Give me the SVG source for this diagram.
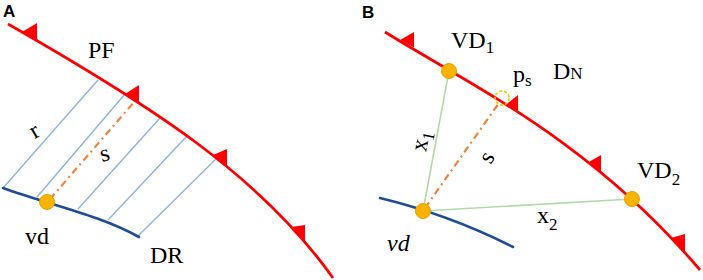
<svg xmlns="http://www.w3.org/2000/svg" width="703" height="280" viewBox="0 0 703 280">
<style>
.front{fill:none;stroke:#ff0000;stroke-width:2.8}
.tri{fill:#ff0000;stroke:none}
.grid{fill:none;stroke:#8fb4e3;stroke-width:1.4}
.dr{fill:none;stroke:#1f4e96;stroke-width:2.6;stroke-linecap:round}
.dash{fill:none;stroke:#f4843a;stroke-width:2.2;stroke-dasharray:7 4 2 4}
.green{fill:none;stroke:#b0dba8;stroke-width:1.6}
.dot{fill:#f8b400;stroke:#eaa200;stroke-width:1}
.lbl{font-family:"Liberation Serif","Times New Roman",serif;font-size:24px;fill:#000}
.sub{font-size:17px}
.pan{font-family:"Liberation Sans",Arial,sans-serif;font-weight:bold;font-size:17px;fill:#000}
</style>
<g id="panelA">
  <text class="pan" x="3" y="17">A</text>
  <g id="connectorsA">
    <path class="grid" d="M3,188 L98,80 M37,197 L125,94 M78,209 L160,118 M108,220 L187,136 M138,236 L217,158"/>
    <path class="dash" d="M50,199 L135,101"/>
  </g>
  <g id="PF">
    <path class="front" d="M8,24 C150,105 260,175 333,278"/>
    <polygon class="tri" points="22,32 37,40.5 37,23"/>
    <polygon class="tri" points="125,94 139,102.5 139,85"/>
    <polygon class="tri" points="213,155 227,166 227,149"/>
    <polygon class="tri" points="291,227 305,242 305,225"/>
    <text class="lbl" x="88" y="58">PF</text>
  </g>
  <g id="DR">
    <path class="dr" d="M3,188 C50,205 100,215 139,237"/>
    <text class="lbl" x="150" y="263">DR</text>
  </g>
  <g id="vdA">
    <circle class="dot" cx="47" cy="202" r="7.5"/>
    <text class="lbl" x="25" y="244">vd</text>
  </g>
  <text class="lbl" x="35" y="138" text-anchor="middle" transform="rotate(-30 35 132)">r</text>
  <text class="lbl" x="105" y="161" text-anchor="middle" transform="rotate(-15 105 155)">s</text>
</g>
<g id="panelB">
  <text class="pan" x="362" y="18">B</text>
  <g id="connectorsB">
    <path class="green" d="M449,71 L423,211 L632,199"/>
    <path class="dash" d="M425,208 L499,103"/>
  </g>
  <g id="DN">
    <path class="front" d="M385,32 C470,85 590,140 700,270"/>
    <polygon class="tri" points="400,40 414,47.5 414,32"/>
    <polygon class="tri" points="506,104.5 518,112 518,95"/>
    <polygon class="tri" points="588,162.5 601,172 601,155"/>
    <polygon class="tri" points="671,238 685,252 685,234"/>
    <text class="lbl" x="553" y="79">D<tspan class="sub" dy="0">N</tspan></text>
  </g>
  <g id="blueB">
    <path class="dr" d="M380,198 Q450,215 513,247"/>
  </g>
  <g id="VD1">
    <circle class="dot" cx="449" cy="71" r="7.5"/>
    <text class="lbl" x="451" y="48">VD<tspan class="sub" dy="5">1</tspan></text>
  </g>
  <g id="VD2">
    <circle class="dot" cx="632" cy="199" r="7.5"/>
    <text class="lbl" x="637" y="178">VD<tspan class="sub" dy="7">2</tspan></text>
  </g>
  <g id="ps">
    <circle cx="502" cy="98" r="7" fill="none" stroke="#f5c400" stroke-width="1.6" stroke-dasharray="3 2"/>
    <text class="lbl" x="513" y="82">p<tspan class="sub" dy="4">s</tspan></text>
  </g>
  <g id="vdB">
    <circle class="dot" cx="423" cy="211" r="7.5"/>
    <text class="lbl" x="387" y="251" font-style="italic">vd</text>
  </g>
  <text class="lbl" x="422" y="147" text-anchor="middle" transform="rotate(-79 422 141)">x<tspan class="sub" dy="5">1</tspan></text>
  <text class="lbl" x="488" y="164" text-anchor="middle" transform="rotate(-60 488 158)">s</text>
  <text class="lbl" x="537" y="223">x<tspan class="sub" dy="7">2</tspan></text>
</g>
</svg>
